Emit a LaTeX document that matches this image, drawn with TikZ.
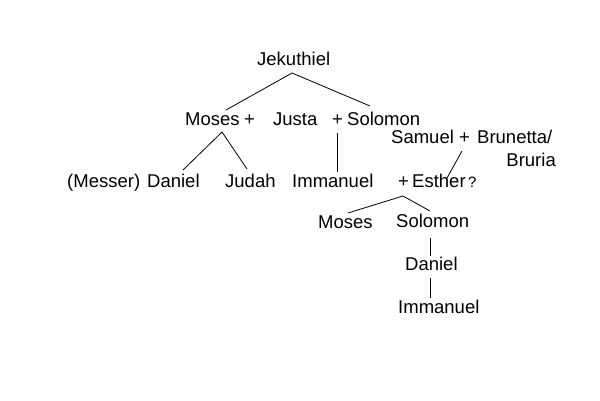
\documentclass[tikz,border=0pt]{standalone}
\usepackage{fontspec}
\setmainfont{Liberation Sans}
\begin{document}
\begin{tikzpicture}[x=1pt,y=-1pt,
  nm/.style={inner sep=0pt,anchor=base west,font=\fontsize{18.5}{20}\selectfont},
  sm/.style={inner sep=0pt,anchor=base west,font=\fontsize{15}{16}\selectfont},
  ln/.style={line width=0.8pt}]
\useasboundingbox (0,0) rectangle (600,400);
% texts
\node[nm] (jek) at (257,65) {Jekuthiel};
\node[nm] (moses1) at (185,125) {Moses};
\node[nm] (p1) at (244,125) {+};
\node[nm] (justa) at (273,125) {Justa};
\node[nm] (p2) at (332,125) {+};
\node[nm] (sol1) at (347,125) {Solomon};
\node[nm] (samuel) at (391,143.5) {Samuel};
\node[nm] (p3) at (459,143.5) {+};
\node[nm] (brun) at (477,143.5) {Brunetta/};
\node[nm,anchor=base east] (bruria) at (556,166) {Bruria};
\node[nm] (messer) at (67,187) {(Messer)};
\node[nm] (daniel1) at (147,187) {Daniel};
\node[nm] (judah) at (225,187) {Judah};
\node[nm] (imm1) at (292,187) {Immanuel};
\node[nm] (p4) at (398,187) {+};
\node[nm] (esther) at (412,187) {Esther};
\node[sm] (q) at (468,187) {?};
\node[nm] (moses2) at (318,228) {Moses};
\node[nm] (sol2) at (396,227) {Solomon};
\node[nm] (daniel2) at (405,270) {Daniel};
\node[nm] (imm2) at (398,313) {Immanuel};
% connector points
\coordinate (a1) at (292,73);
\coordinate (a1l) at (226,110);
\coordinate (a1r) at (370,106);
\coordinate (a2) at (222,132);
\coordinate (a2l) at (183,170);
\coordinate (a2r) at (247,169);
\coordinate (v1t) at (337,133);
\coordinate (v1b) at (337,172);
\coordinate (s1t) at (462,151);
\coordinate (s1b) at (447,178);
\coordinate (a3) at (403,196);
\coordinate (a3l) at (348,213);
\coordinate (a3r) at (430,211);
\coordinate (v2t) at (430,238);
\coordinate (v2b) at (430,256);
\coordinate (v3t) at (430,278);
\coordinate (v3b) at (430,298);
% connectors
\draw[ln] (a1l) -- (a1) -- (a1r);
\draw[ln] (a2l) -- (a2) -- (a2r);
\draw[ln] (v1t) -- (v1b);
\draw[ln] (s1t) -- (s1b);
\draw[ln] (a3l) -- (a3) -- (a3r);
\draw[ln] (v2t) -- (v2b);
\draw[ln] (v3t) -- (v3b);
\end{tikzpicture}
\end{document}
